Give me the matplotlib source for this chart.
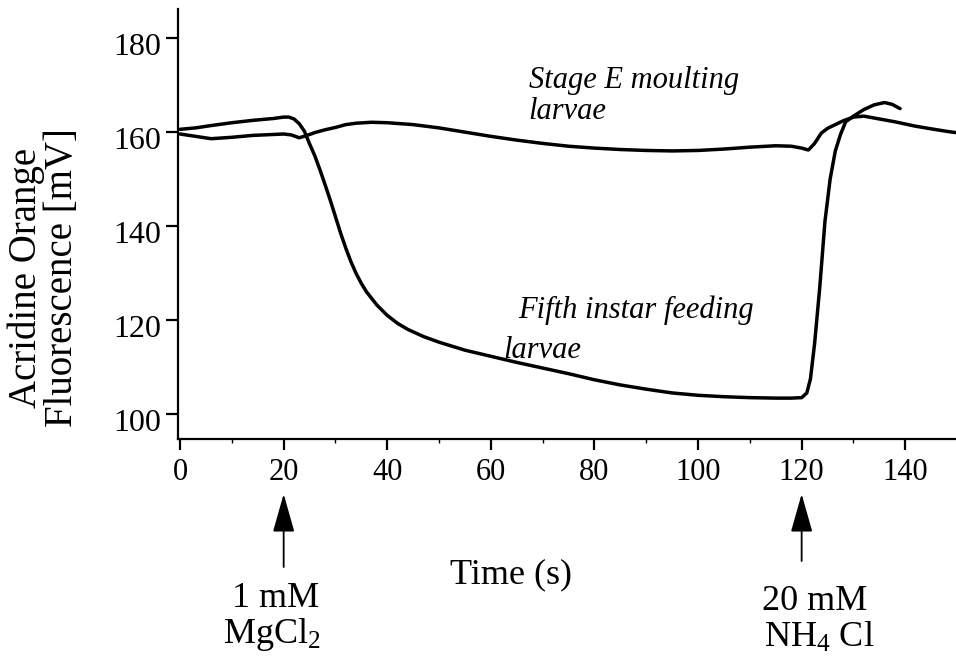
import matplotlib
matplotlib.use('Agg')
import matplotlib.pyplot as plt
from matplotlib.transforms import ScaledTranslation, blended_transform_factory
from matplotlib.ticker import MultipleLocator

plt.rcParams['font.family'] = ['Liberation Serif', 'DejaVu Serif']
plt.rcParams['mathtext.fontset'] = 'custom'
plt.rcParams['mathtext.rm'] = 'Liberation Serif'
plt.rcParams['mathtext.it'] = 'Liberation Serif:italic'

# Fifth instar feeding larvae (drops after MgCl2, recovers after NH4Cl)
fifth_t = [0, 3, 6, 10, 14, 18, 20, 21, 22, 23, 24, 25, 26, 27, 28, 29, 30,
           31, 32, 33, 34, 35, 36, 38, 40, 42, 44, 47, 50, 55, 60, 65, 70, 75,
           80, 85, 90, 95, 100, 105, 110, 115, 118, 120, 121, 121.7, 122.5,
           123.5, 124.5, 125.5, 126.5, 127.5, 128.5, 130, 132, 134, 136,
           137.5, 139]
fifth_v = [160.6, 160.9, 161.4, 162.0, 162.5, 162.9, 163.2, 163.2, 162.8,
           161.8, 160.2, 157.5, 155.0, 152.0, 148.8, 145.5, 142.0, 138.5,
           135.3, 132.4, 129.9, 127.8, 126.0, 123.2, 121.0, 119.3, 118.0,
           116.5, 115.3, 113.6, 112.3, 111.0, 109.8, 108.6, 107.3, 106.2,
           105.3, 104.5, 104.0, 103.7, 103.5, 103.4, 103.4, 103.5, 104.5,
           107.5, 115.0, 127.0, 141.0, 150.0, 156.0, 159.5, 162.2, 163.4,
           164.8, 165.8, 166.3, 165.9, 165.0]

# Stage E moulting larvae
stage_t = [0, 3, 6, 10, 14, 18, 20, 21.5, 23, 24.5, 26, 28, 30, 32, 34, 37,
           40, 45, 50, 55, 60, 65, 70, 75, 80, 85, 90, 95, 100, 105, 110, 115,
           118, 120, 121.3, 122.5, 123.8, 125, 126.5, 128, 130, 132, 135, 138,
           141.8, 145, 148.4, 149.8]
stage_v = [159.6, 159.1, 158.6, 158.9, 159.3, 159.5, 159.6, 159.4, 158.8,
           159.3, 159.9, 160.5, 161.0, 161.6, 161.9, 162.1, 162.0, 161.6,
           160.9, 160.0, 159.1, 158.3, 157.6, 157.0, 156.6, 156.3, 156.1,
           156.0, 156.1, 156.4, 156.8, 157.1, 157.0, 156.6, 156.2, 157.6,
           159.8, 160.8, 161.6, 162.4, 163.2, 163.4, 162.8, 162.2, 161.3,
           160.7, 160.1, 159.9]

x_ticks = [0, 20, 40, 60, 80, 100, 120, 140]
y_ticks = [100, 120, 140, 160, 180]

W, H = 956, 661
fig = plt.figure(figsize=(W / 100, H / 100), dpi=100)
ax = fig.add_axes([178 / W, 1 - 439 / H, (W - 178) / W, (439 - 9) / H])

ax.plot(fifth_t, fifth_v, color='black', lw=2.5, solid_capstyle='round')
ax.plot(stage_t, stage_v, color='black', lw=2.5, solid_capstyle='round')

ax.set_xlim(-0.4, 149.8)
ax.set_ylim(94.7, 186.2)
ax.set_xticks(x_ticks)
ax.set_yticks(y_ticks)
ax.xaxis.set_minor_locator(MultipleLocator(10))

for side in ['top', 'right']:
    ax.spines[side].set_visible(False)
for side in ['left', 'bottom']:
    ax.spines[side].set_linewidth(1.6)

ax.tick_params(axis='y', direction='out', length=9, width=1.6, pad=3, labelsize=23)
ax.tick_params(axis='x', which='major', direction='out', length=8, width=1.6, pad=6, labelsize=22)
ax.tick_params(axis='x', which='minor', direction='out', length=3, width=1)

# tick labels sit a little low in the original
shift = ScaledTranslation(0, -0.06, fig.dpi_scale_trans)
for lab in ax.get_yticklabels():
    lab.set_transform(lab.get_transform() + shift)

# axis labels
fig.text(44 / W, 1 - 278 / H, 'Acridine Orange\nFluorescence [mV]', rotation=90,
         ha='center', va='center', fontsize=28, linespacing=0.95)
trans = blended_transform_factory(ax.transData, fig.transFigure)
ax.text(63.8, 1 - 583 / H, 'Time (s)', transform=trans, ha='center',
        va='baseline', fontsize=26, clip_on=False)

# curve annotations
ax.text(67.3, 169.4, 'Stage E moulting', style='italic', fontsize=22, va='baseline')
ax.text(67.3, 162.7, 'larvae', style='italic', fontsize=22, va='baseline')
ax.text(65.2, 120.4, 'Fifth instar feeding', style='italic', fontsize=22, va='baseline')
ax.text(62.5, 112.0, 'larvae', style='italic', fontsize=22, va='baseline')

# addition arrows below the axis
arrow = dict(arrowstyle='-|>,head_length=2.4,head_width=0.68', mutation_scale=10,
             lw=1.3, color='black', shrinkA=0, shrinkB=0)
ax.annotate('', xy=(20, 1 - 494 / H), xytext=(20, 1 - 567 / H), xycoords=trans,
            textcoords=trans, arrowprops=arrow, annotation_clip=False)
ax.annotate('', xy=(120, 1 - 494 / H), xytext=(120, 1 - 561 / H), xycoords=trans,
            textcoords=trans, arrowprops=arrow, annotation_clip=False)

ax.text(18.4, 1 - 607 / H, '1 mM', transform=trans, ha='center', va='baseline',
        fontsize=26, clip_on=False)
ax.text(17.8, 1 - 643 / H, 'MgCl$_2$', transform=trans, ha='center', va='baseline',
        fontsize=26, clip_on=False)
ax.text(122.6, 1 - 610 / H, '20 mM', transform=trans, ha='center', va='baseline',
        fontsize=26, clip_on=False)
ax.text(123.3, 1 - 647 / H, 'NH$_4$ Cl', transform=trans, ha='center', va='baseline',
        fontsize=26, clip_on=False)

fig.savefig('out.png', dpi=100, facecolor='white')
